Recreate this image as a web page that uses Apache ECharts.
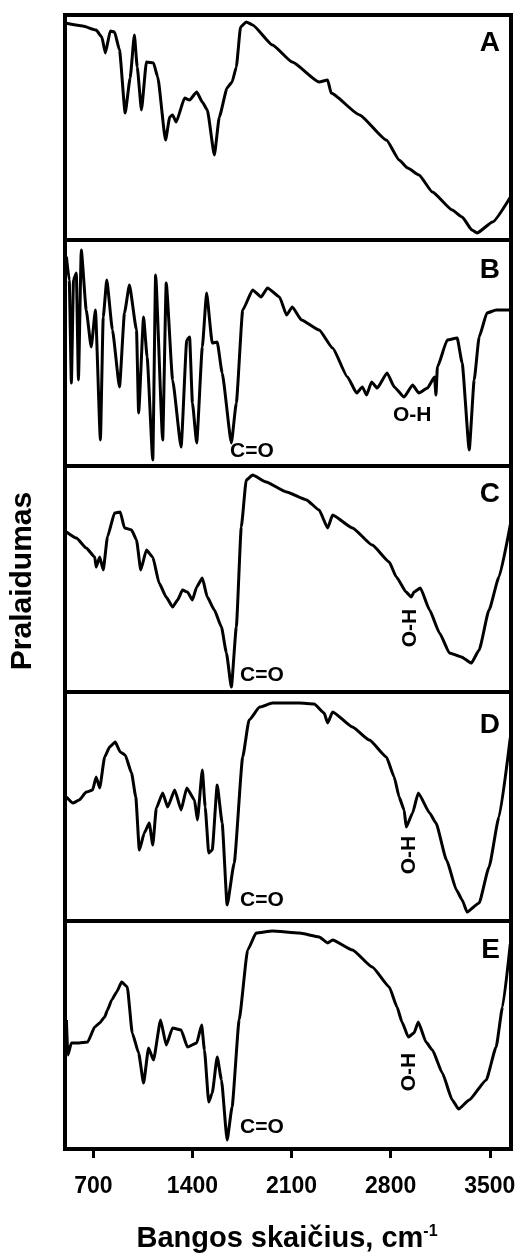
<!DOCTYPE html>
<html>
<head>
<meta charset="utf-8">
<script src="https://cdn.jsdelivr.net/npm/echarts@6/dist/echarts.min.js"></script>
<style>
  html, body { margin: 0; padding: 0; background: #fff; }
  #chart { width: 532px; height: 1259px; }
</style>
</head>
<body>
<div id="chart"></div>
<script>
// ---- Data (wavenumber, cm-1 ; relative transmittance, %) ----
const panelLabels = ['A', 'B', 'C', 'D', 'E'];
const xTickValues = [700, 1400, 2100, 2800, 3500];
const xAxisTitle = 'Bangos skaičius, cm';
const yAxisTitle = 'Pralaidumas';

const wnA = [510, 625, 720, 760, 785, 820, 850, 885, 925, 960, 990, 1010, 1040, 1075, 1125, 1155, 1210, 1240, 1260, 1285, 1345, 1380, 1430, 1470, 1505, 1555, 1590, 1645, 1680, 1710, 1740, 1780, 1825, 1965, 2105, 2295, 2355, 2380, 2580, 2770, 2860, 2920, 3000, 3095, 3235, 3305, 3375, 3410, 3520, 3645];
const tA = [96.3, 95.1, 93.3, 90.2, 83.1, 92.9, 92.4, 84.4, 56.4, 72, 91.1, 76.9, 57.8, 79.1, 78.7, 72.4, 44.4, 54.7, 55.6, 52.4, 63.1, 62.2, 65.8, 61.3, 57.8, 37.8, 54.7, 67.6, 70.2, 76.9, 94.7, 96.9, 95.6, 86.7, 79.1, 70.2, 71.1, 65.3, 55.6, 44.4, 35.6, 32, 28.9, 21.3, 13.3, 10.2, 4.4, 3.1, 8, 19];

const wnB = [510, 530, 545, 560, 580, 595, 615, 650, 685, 715, 750, 770, 795, 835, 885, 920, 955, 1005, 1020, 1055, 1080, 1120, 1140, 1190, 1215, 1260, 1320, 1360, 1380, 1400, 1430, 1470, 1500, 1540, 1575, 1610, 1675, 1710, 1755, 1825, 1885, 1930, 2015, 2065, 2105, 2170, 2295, 2390, 2495, 2560, 2600, 2630, 2665, 2705, 2775, 2825, 2895, 2955, 3000, 3060, 3110, 3120, 3130, 3200, 3270, 3305, 3355, 3390, 3425, 3480, 3545, 3645];
const tB = [92.6, 82.3, 36.7, 82.3, 85.4, 38.1, 95.6, 69, 52.7, 69, 11.5, 65.9, 82.3, 60.2, 35, 67.7, 80.1, 60.2, 23.5, 65.9, 48.2, 2.7, 84.5, 11.5, 81, 38.1, 8.4, 55.8, 57.1, 27.9, 10.2, 52.7, 76.5, 54.4, 54.9, 41.2, 10.2, 27.9, 69, 77.9, 74.8, 78.8, 74.8, 66.8, 70.4, 64.6, 60.2, 52.2, 39.4, 32.3, 35, 31.4, 37.2, 34.5, 41.2, 35, 30.5, 35.8, 32.3, 34.5, 39.4, 31.4, 43.8, 55.8, 56.6, 45.6, 7.1, 38.1, 57.1, 67.7, 69, 69];

const wnC = [510, 580, 650, 710, 720, 745, 770, 800, 850, 890, 920, 970, 1005, 1035, 1075, 1120, 1165, 1215, 1260, 1295, 1330, 1365, 1400, 1430, 1470, 1505, 1555, 1605, 1640, 1675, 1710, 1745, 1780, 1825, 1920, 2065, 2205, 2295, 2355, 2390, 2530, 2670, 2790, 2840, 2910, 2945, 2965, 3010, 3075, 3145, 3215, 3300, 3370, 3425, 3495, 3565, 3645];
const tC = [70.8, 68.1, 63.7, 59.7, 55.3, 59.7, 54, 68.6, 79.2, 79.7, 72.6, 71.7, 67.3, 54, 62.8, 59.7, 48.2, 42, 37.6, 40.7, 45.1, 44.2, 40.7, 46.5, 50.4, 42, 36.3, 28.8, 17.3, 2.2, 28.8, 73, 93.8, 96, 92.9, 88.5, 85, 80.5, 72.6, 78.3, 72.6, 65, 57.5, 50.9, 44.2, 42, 44.2, 46, 36.3, 26.1, 17.3, 15.5, 12.8, 18.6, 36.3, 50.9, 74];

const wnD = [510, 555, 600, 650, 695, 720, 745, 780, 815, 855, 890, 925, 970, 1000, 1025, 1060, 1095, 1120, 1145, 1190, 1225, 1275, 1320, 1360, 1415, 1435, 1470, 1490, 1515, 1540, 1575, 1610, 1645, 1695, 1755, 1800, 1875, 1965, 2155, 2260, 2330, 2355, 2390, 2530, 2650, 2770, 2825, 2860, 2895, 2910, 2955, 2995, 3075, 3120, 3195, 3265, 3305, 3340, 3425, 3495, 3565, 3645];
const tD = [54.1, 51.5, 52.8, 56.3, 57.2, 62.9, 58.1, 71.6, 76, 78.2, 73.8, 72.5, 64.6, 54.1, 31, 38.4, 42.8, 33.2, 49.3, 55.9, 49.8, 57.2, 48.5, 58.1, 52.8, 44.1, 65.9, 49.8, 29.7, 31, 59.4, 42.8, 7, 25.3, 71.6, 87.8, 93.4, 95.2, 95.2, 94.8, 90.8, 86.5, 91.3, 84.7, 79, 71.6, 62.9, 54.1, 48.5, 41, 47.2, 55.9, 47.2, 42.8, 26.6, 13.5, 9.2, 3.9, 7.9, 23.6, 45.4, 80];

const wnE = [510, 520, 545, 600, 660, 710, 745, 780, 800, 830, 865, 900, 940, 975, 1020, 1055, 1090, 1125, 1175, 1215, 1260, 1320, 1365, 1430, 1465, 1485, 1515, 1540, 1575, 1605, 1645, 1680, 1730, 1790, 1850, 1965, 2155, 2295, 2355, 2390, 2530, 2670, 2790, 2845, 2880, 2925, 2965, 2995, 3050, 3095, 3165, 3235, 3280, 3355, 3475, 3545, 3590, 3645];
const tE = [56.6, 41.2, 46.5, 46.5, 46.9, 53.5, 55.3, 57.9, 61, 65.4, 68.9, 73.2, 71.1, 50.9, 42.1, 28.9, 44.3, 39, 56.6, 45.6, 53.1, 52.2, 44.7, 46.5, 54.4, 43.4, 20.6, 24.6, 40.4, 30.3, 3.9, 18.4, 56.6, 87.3, 94.7, 95.6, 94.7, 93, 90.4, 91.7, 87.3, 79.8, 71.1, 62.3, 55.7, 49.1, 50.9, 55.7, 46.9, 43.4, 33.3, 21.5, 17.5, 21.5, 30.3, 44.7, 62.3, 90];

const spectraX = [wnA, wnB, wnC, wnD, wnE];
const spectraY = [tA, tB, tC, tD, tE];

// ---- Layout ----
const FONT = "'Liberation Sans', Arial, sans-serif";
const panelTops = [15, 240, 466, 692, 921];
const panelHeights = [225, 226, 226, 229, 228];
const LEFT = 65, WIDTH = 446;

const grids = [], xAxes = [], yAxes = [], series = [];
for (let i = 0; i < 5; i++) {
  grids.push({
    left: LEFT, width: WIDTH, top: panelTops[i], height: panelHeights[i],
    show: true, borderColor: '#000', borderWidth: 4, backgroundColor: 'transparent'
  });
  const last = i === 4;
  xAxes.push({
    type: 'value', gridIndex: i, min: 500, max: 3650,
    show: last,
    axisLine: { show: false },
    splitLine: { show: false },
    axisTick: {
      show: last, inside: false, length: 9,
      lineStyle: { color: '#000', width: 3 },
      customValues: xTickValues
    },
    axisLabel: {
      show: last, customValues: xTickValues, margin: 26,
      formatter: v => String(v),
      color: '#000', fontSize: 23, fontWeight: 'bold', fontFamily: FONT
    }
  });
  yAxes.push({ type: 'value', gridIndex: i, min: 0, max: 100, show: false });
  series.push({
    type: 'line', xAxisIndex: i, yAxisIndex: i,
    data: spectraX[i].map((x, k) => [x, spectraY[i][k]]),
    showSymbol: false, smooth: 0.15, smoothMonotone: 'x',
    lineStyle: { color: '#000', width: 3 },
    silent: true, animation: false, clip: true
  });
}

const txt = (x, y, text, size, opts) => Object.assign({
  type: 'text', x: x, y: y,
  style: Object.assign({
    text: text, fill: '#000', font: 'bold ' + size + 'px ' + FONT,
    textAlign: 'left', textVerticalAlign: 'middle'
  }, (opts && opts.style) || {})
}, (opts && opts.el) || {});

const graphics = [];
// panel letters
const letterY = [43, 270, 494, 725, 950];
panelLabels.forEach((l, i) => graphics.push(txt(500, letterY[i], l, 28, { style: { textAlign: 'right' } })));
// C=O annotations
[[230, 451], [240, 675], [240, 900], [240, 1127]].forEach(p => graphics.push(txt(p[0], p[1], 'C=O', 21)));
// O-H annotations
graphics.push(txt(393, 415, 'O-H', 21));
[[410, 628], [409, 855], [409, 1072]].forEach(p => graphics.push(txt(p[0], p[1], 'O-H', 21, { style: { textAlign: 'center' }, el: { rotation: Math.PI / 2 } })));
// y axis title
graphics.push(txt(23, 581, yAxisTitle, 30, { style: { textAlign: 'center' }, el: { rotation: Math.PI / 2 } }));
// x axis title with superscript
graphics.push({
  type: 'text', x: 287, y: 1239,
  style: {
    text: '{a|' + xAxisTitle + '}{b|-1}',
    textAlign: 'center', textVerticalAlign: 'middle',
    rich: {
      a: { fontSize: 29, fontWeight: 'bold', fontFamily: FONT, fill: '#000', color: '#000' },
      b: { fontSize: 16, fontWeight: 'bold', fontFamily: FONT, fill: '#000', color: '#000', verticalAlign: 'top', padding: [0, 0, 14, 0] }
    }
  }
});

const chart = echarts.init(document.getElementById('chart'), null, { renderer: 'canvas' });
chart.setOption({
  animation: false,
  backgroundColor: '#fff',
  grid: grids, xAxis: xAxes, yAxis: yAxes, series: series,
  graphic: graphics
});
</script>
</body>
</html>
